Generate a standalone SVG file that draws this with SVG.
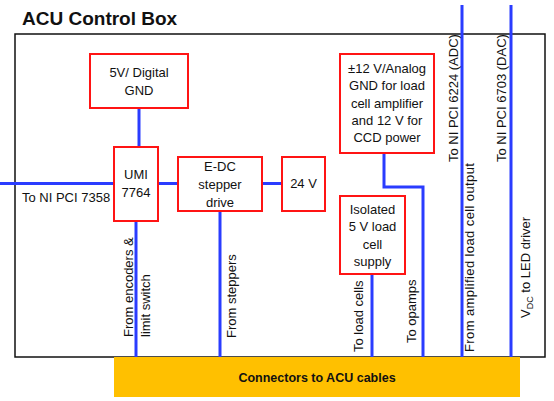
<svg xmlns="http://www.w3.org/2000/svg" width="554" height="401" viewBox="0 0 554 401">
<style>
text{font-family:"Liberation Sans",Arial,sans-serif;font-size:13px;fill:#111}
.c{text-anchor:middle}
.box{fill:#fff;stroke:#ff1414;stroke-width:2}
.wire{fill:none;stroke:#2a3cff;stroke-width:3}
.b{font-weight:bold}
</style>
<rect width="554" height="401" fill="#fff"/>
<text class="b" x="22" y="25" style="font-size:19px">ACU Control Box</text>
<rect id="outer" x="15" y="34" width="530" height="323" fill="none" stroke="#111" stroke-width="1.5"/>
<g id="connectors">
<line class="wire" x1="139" y1="108" x2="139" y2="147"/>
<line class="wire" x1="0" y1="183.5" x2="114" y2="183.5"/>
<line class="wire" x1="158" y1="183.5" x2="178" y2="183.5"/>
<line class="wire" x1="262" y1="183.5" x2="282" y2="183.5"/>
<line class="wire" x1="136" y1="221" x2="136" y2="357"/>
<line class="wire" x1="220" y1="211" x2="220" y2="357"/>
<polyline class="wire" points="384,153 384,187 423,187 423,357"/>
<line class="wire" x1="372" y1="274" x2="372" y2="357"/>
<line class="wire" x1="462" y1="5" x2="462" y2="357"/>
<line class="wire" x1="511" y1="5" x2="511" y2="357"/>
</g>
<g id="digital-gnd">
<rect class="box" x="90" y="54" width="98" height="54"/>
<text class="c" x="139" y="77">5V/ Digital</text>
<text class="c" x="139" y="94.5">GND</text>
</g>
<g id="umi">
<rect class="box" x="114" y="147" width="44" height="74"/>
<text class="c" x="136" y="179">UMI</text>
<text class="c" x="136" y="197">7764</text>
</g>
<g id="edc">
<rect class="box" x="178" y="157" width="84" height="54"/>
<text class="c" x="220" y="171">E-DC</text>
<text class="c" x="220" y="189">stepper</text>
<text class="c" x="220" y="206.5">drive</text>
</g>
<g id="v24">
<rect class="box" x="282" y="157" width="43" height="54"/>
<text class="c" x="303.5" y="188">24 V</text>
</g>
<g id="analog">
<rect class="box" x="340" y="54" width="94" height="99"/>
<text class="c" x="387" y="72.5">±12 V/Analog</text>
<text class="c" x="387" y="90">GND for load</text>
<text class="c" x="387" y="107.5">cell amplifier</text>
<text class="c" x="387" y="125">and 12 V for</text>
<text class="c" x="387" y="142">CCD power</text>
</g>
<g id="isolated">
<rect class="box" x="340" y="196" width="65" height="78"/>
<text class="c" x="372.5" y="213.5">Isolated</text>
<text class="c" x="372.5" y="231">5 V load</text>
<text class="c" x="372.5" y="248.5">cell</text>
<text class="c" x="372.5" y="266">supply</text>
</g>
<g id="cables">
<rect x="114" y="357" width="406" height="40" fill="#ffc000"/>
<text class="c b" x="317" y="382" style="font-size:12.5px">Connectors to ACU cables</text>
</g>
<g id="labels">
<text x="22" y="202">To NI PCI 7358</text>
<text transform="translate(132.5,337) rotate(-90)">From encoders &amp;</text>
<text transform="translate(150,337) rotate(-90)">limit switch</text>
<text transform="translate(235.5,338) rotate(-90)">From steppers</text>
<text transform="translate(363,352) rotate(-90)">To load cells</text>
<text transform="translate(416,343) rotate(-90)">To opamps</text>
<text transform="translate(474,352) rotate(-90)" textLength="189" lengthAdjust="spacing">From amplified load cell output</text>
<text transform="translate(530,318) rotate(-90)">V<tspan style="font-size:9px" dy="3">DC</tspan><tspan dy="-3"> to LED driver</tspan></text>
<text transform="translate(457.5,162) rotate(-90)">To NI PCI 6224 (ADC)</text>
<text transform="translate(505.5,162) rotate(-90)">To NI PCI 6703 (DAC)</text>
</g>
</svg>
